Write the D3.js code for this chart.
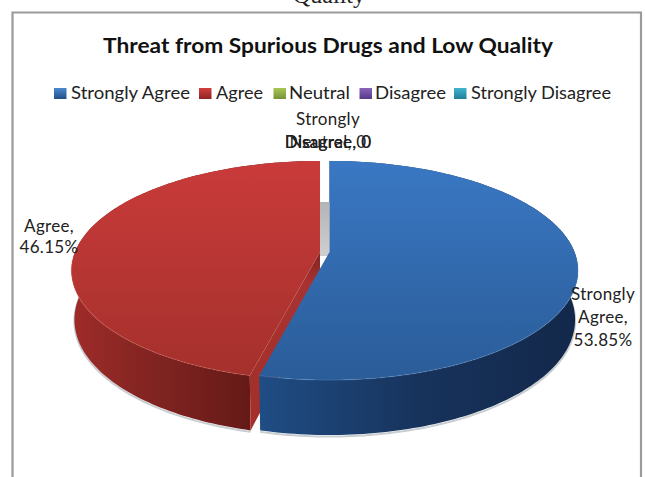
<!DOCTYPE html>
<html>
<head>
<meta charset="utf-8">
<script src="https://cdn.jsdelivr.net/npm/d3@7"></script>
<style>
  html, body { margin: 0; padding: 0; background: #fff; }
  svg { display: block; }
  text { font-family: Lato, "Open Sans", sans-serif; fill: #222; }
</style>
</head>
<body>
<div id="chart"></div>
<script>
// Survey responses
const categories = ["Strongly Agree", "Agree", "Neutral", "Disagree", "Strongly Disagree"];
const shares = [53.85, 46.15, 0, 0, 0];
const chartTitle = "Threat from Spurious Drugs and Low Quality";
const headingTail = "Quality";

// Series colours: swatch top, swatch bottom
const swatchTop = ["#4a8ad0", "#d2403e", "#a9c653", "#8a64bb", "#42b4d0"];
const swatchBottom = ["#234f86", "#8e2422", "#76923a", "#553a85", "#1f7f99"];

// Legend slots: swatch x and text extents
const legendSwatchX = [54, 199, 273.5, 359.5, 454];
const legendTextX = [71, 216, 289, 375, 471];
const legendTextW = [119, 47, 61, 71, 140];

// Data label placement per category
const labelLines = [["Strongly", "Agree,", "53.85%"], ["Agree,", "46.15%"], ["Neutral, 0"], ["Disagree, 0"], ["Strongly", "Disagree, 0"]];
const labelX = [603, 49, 328, 328, 328];
const labelY = [300, 232, 148, 148, 125];
const labelGap = [23, 21, 0, 0, 23];

const W = 645, H = 477;
const svg = d3.select("#chart").append("svg").attr("width", W).attr("height", H);
const defs = svg.append("defs");

function linearGradient(id, x1, y1, x2, y2, stops) {
  const g = defs.append("linearGradient").attr("id", id)
    .attr("gradientUnits", "userSpaceOnUse")
    .attr("x1", x1).attr("y1", y1).attr("x2", x2).attr("y2", y2);
  stops.forEach(([o, c]) => g.append("stop").attr("offset", o).attr("stop-color", c));
  return `url(#${id})`;
}

// Heading line that runs off the top of the page
svg.append("text").attr("x", 329).attr("y", 3).attr("text-anchor", "middle")
  .style("font-family", "'Liberation Serif', serif").style("font-size", "24px").text(headingTail);

// Chart frame, open at the bottom edge of the page
svg.append("path").attr("d", `M12.5,${H} V12.5 H641 V${H}`)
  .attr("fill", "none").attr("stroke", "#9a9a9a").attr("stroke-width", 2.2);

// Title
svg.append("text").attr("x", 328).attr("y", 52.5).attr("text-anchor", "middle")
  .attr("textLength", 450).attr("lengthAdjust", "spacingAndGlyphs")
  .style("font-size", "21.5px").style("font-weight", 700).style("fill", "#111").text(chartTitle);

// Legend
categories.forEach((c, i) => {
  const fill = linearGradient("sw" + i, 0, 88, 0, 99, [[0, swatchTop[i]], [1, swatchBottom[i]]]);
  svg.append("rect").attr("x", legendSwatchX[i]).attr("y", 88).attr("width", 12.5).attr("height", 11).attr("fill", fill);
  svg.append("text").attr("x", legendTextX[i]).attr("y", 98.5)
    .attr("textLength", legendTextW[i]).attr("lengthAdjust", "spacingAndGlyphs")
    .style("font-size", "17px").text(c);
});

// Perspective projection of the pie disc: u runs right, v runs toward the viewer, z is 0 on top and 1 at the base
const radius = 245, discRy = 106.4, tilt = 0.169, cy = 252;
function project(cx, u, v, z) {
  const s = 1 / (1 - tilt * v);
  const depth = z * (48 + 7 * v);
  return [cx + radius * u * s * (1 - 0.012 * z), cy + discRy * v * s + depth];
}
const onCircle = (cx, a, z) => project(cx, Math.sin(a), -Math.cos(a), z);
const line = d3.line();
const sampleAngles = (a0, a1) => {
  const n = Math.max(2, Math.ceil((a1 - a0) / 0.02));
  return d3.range(n + 1).map(i => a0 + (a1 - a0) * i / n);
};

const arcs = d3.pie().sort(null).value(d => d)(shares);
const centreX = [329.5, 320];

// Grey gap between the two separated slices, seen down to the back rim of the base
const gapTop = project(centreX[1], 0, -1, 1);
const gapBottom = project(centreX[1], 0, 0, 0);
svg.append("rect").attr("x", centreX[1]).attr("y", gapTop[1])
  .attr("width", centreX[0] - centreX[1]).attr("height", gapBottom[1] - gapTop[1] + 4)
  .attr("fill", linearGradient("gap", 0, gapTop[1], 0, gapBottom[1], [[0, "#b4b4b4"], [1, "#cdcdcd"]]));

const topFill = [
  linearGradient("topB", 0, 160, 0, 380, [[0, "#3a78c4"], [1, "#2a5c98"]]),
  linearGradient("topR", 0, 160, 0, 380, [[0, "#c93b3a"], [1, "#a4302c"]])
];
const wallFill = [
  linearGradient("wallB", 258, 0, 578, 0, [[0, "#1f4d85"], [0.5, "#17335c"], [1, "#13284a"]]),
  linearGradient("wallR", 70, 0, 250, 0, [[0, "#a02b29"], [0.35, "#872623"], [1, "#651a17"]])
];
const rimGlow = ["rgba(120,170,225,0.18)", "rgba(235,110,95,0.2)"];

// Red goes first so the blue slice sits in front of its cut face
[1, 0].forEach(i => {
  const { startAngle: a0, endAngle: a1 } = arcs[i];
  const cx = centreX[i];
  const angles = sampleAngles(a0, a1);

  // Outer wall, between rim and base
  const rim = angles.map(a => onCircle(cx, a, 0));
  const baseEdge = angles.map(a => onCircle(cx, a, 1));

  // Faint shadow hugging the underside
  const lowerHalf = angles.filter(a => Math.cos(a) < 0.1);
  svg.append("path").attr("d", line(lowerHalf.map(a => onCircle(cx, a, 1))))
    .attr("transform", "translate(0,1.5)").attr("fill", "none")
    .attr("stroke", "#c8ced1").attr("stroke-width", 2);

  svg.append("path").attr("d", line(rim.concat(baseEdge.slice().reverse())) + "Z").attr("fill", wallFill[i]);

  // Cut face that turns toward the viewer on the red slice
  if (i === 1) {
    const tipTop = onCircle(cx, a0, 0), tipBase = onCircle(cx, a0, 1);
    const apexTop = project(cx, 0, 0, 0), apexBase = project(cx, 0, 0, 1);
    svg.append("path").attr("d", line([apexTop, tipTop, tipBase, apexBase]) + "Z")
      .attr("fill", linearGradient("face", 0, apexTop[1], 0, tipTop[1], [[0, "#7d2421"], [0.25, "#a8322f"], [1, "#a4302c"]]));
  }

  // Top surface
  const apex = project(cx, 0, 0, 0);
  svg.append("path").attr("d", line([apex].concat(rim)) + "Z").attr("fill", topFill[i]);

  // Soft highlight along the front of the rim
  const front = angles.filter(a => Math.cos(a) < -0.05).map(a => onCircle(cx, a, 0));
  svg.append("path").attr("d", line(front)).attr("fill", "none")
    .attr("stroke", rimGlow[i]).attr("stroke-width", 1.4);
});

// Data labels
categories.forEach((c, i) => {
  labelLines[i].forEach((t, k) => {
    svg.append("text").attr("x", labelX[i]).attr("y", labelY[i] + k * labelGap[i])
      .attr("text-anchor", "middle").style("font-size", "17px").style("letter-spacing", "0.3px").text(t);
  });
});
</script>
</body>
</html>
